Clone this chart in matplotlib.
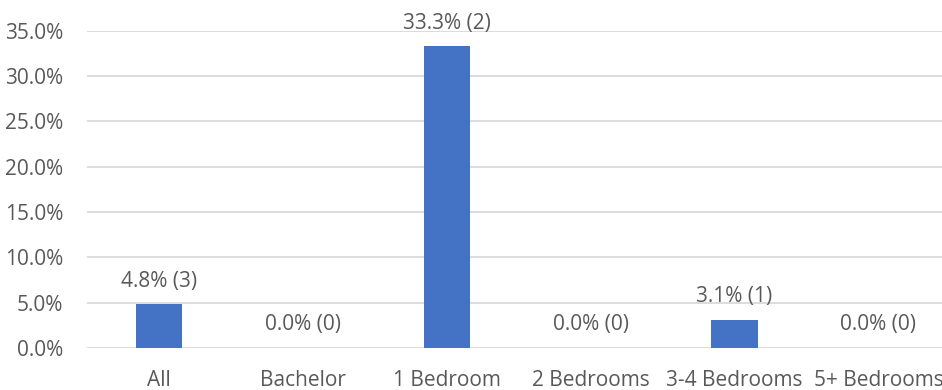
import matplotlib
matplotlib.use("Agg")
import matplotlib.pyplot as plt
from matplotlib.ticker import PercentFormatter

categories = ["All", "Bachelor", "1 Bedroom", "2 Bedrooms", "3-4 Bedrooms", "5+ Bedrooms"]
shares = [4.8, 0.0, 33.3, 0.0, 3.1, 0.0]
counts = [3, 0, 2, 0, 1, 0]

BLUE = "#4472C4"
INK = "#595959"
GRID = "#D9D9D9"

plt.rcParams["font.family"] = ["Open Sans", "DejaVu Sans"]

fig = plt.figure(figsize=(9.42, 3.9), dpi=100)
# plot area runs slightly past the right edge of the canvas
ax = fig.add_axes([0.092, 0.108, 0.917, 0.813])

x = range(len(categories))
ax.bar(x, shares, width=0.32, color=BLUE, zorder=3)
for i, (v, n) in enumerate(zip(shares, counts)):
    ax.annotate(f"{v:.1f}% ({n})", (i, v), xytext=(0, 9), textcoords="offset points",
                ha="center", va="bottom", fontsize=15, color=INK)

ax.set_ylim(0, 35)
ax.set_xlim(-0.5, len(categories) - 0.5)
ax.set_yticks(range(0, 36, 5))
ax.yaxis.set_major_formatter(PercentFormatter(decimals=1))
ax.set_xticks(list(x))
ax.set_xticklabels(categories)
ax.tick_params(length=0, labelsize=15, colors=INK)
ax.tick_params(axis="x", pad=16)
ax.tick_params(axis="y", pad=17)
ax.grid(axis="y", color=GRID, linewidth=1.3, zorder=0)
for s in ax.spines.values():
    s.set_visible(False)

fig.savefig("out.png", dpi=100)
